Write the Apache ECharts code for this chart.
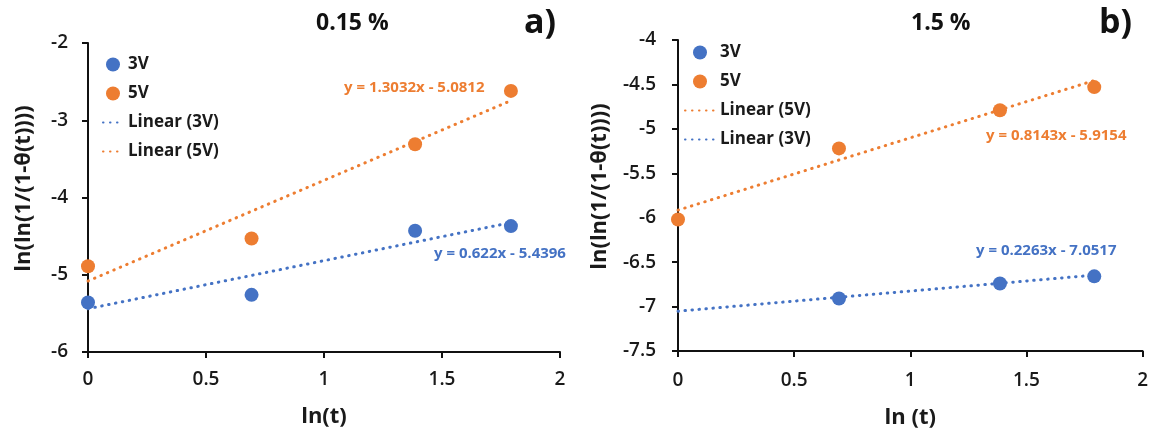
<!DOCTYPE html>
<html><head><meta charset="utf-8">
<script src="https://cdn.jsdelivr.net/npm/echarts@6/dist/echarts.min.js"></script>
<style>html,body{margin:0;padding:0;background:#fff}#c{width:1151px;height:434px}</style>
</head><body><div id="c"></div>
<script>
// ---- data ----
const xVals = [0, 0.693, 1.386, 1.792];
const xValsB3 = [0.693, 1.386, 1.792];
// panel a) 0.15 %
const a3V = [-5.36, -5.26, -4.43, -4.37];
const a5V = [-4.89, -4.53, -3.31, -2.62];
const aTrend3V = [[0, -5.44], [1.792, -4.325]];
const aTrend5V = [[0, -5.081], [1.792, -2.746]];
// panel b) 1.5 %
const b3V = [-6.91, -6.74, -6.66];
const b5V = [-6.02, -5.22, -4.79, -4.53];
const bTrend3V = [[0, -7.052], [1.792, -6.646]];
const bTrend5V = [[0, -5.915], [1.792, -4.456]];
const eqA5 = 'y = 1.3032x - 5.0812', eqA3 = 'y = 0.622x - 5.4396';
const eqB5 = 'y = 0.8143x - 5.9154', eqB3 = 'y = 0.2263x - 7.0517';

const BLUE = '#4472C4', ORANGE = '#ED7D31';
const FONT = 'Open Sans';
const pair = (xs, ys) => xs.map((x, i) => [x, ys[i]]);

function xAxis(gridIndex, name, gap, margin) {
  return {
    type: 'value', gridIndex, min: 0, max: 2, interval: 0.5, name,
    nameLocation: 'middle', nameGap: gap,
    nameTextStyle: { fontFamily: FONT, fontWeight: 'bold', fontSize: 22, color: '#1a1a1a' },
    axisLine: { onZero: false, lineStyle: { color: '#111', width: 2 } },
    axisTick: { show: true, length: 6, lineStyle: { color: '#111', width: 2 } },
    axisLabel: { fontFamily: FONT, fontWeight: 600, fontSize: 19, color: '#1a1a1a', margin,
      formatter: v => String(v) },
    splitLine: { show: false }
  };
}
function yAxis(gridIndex, min, max, interval, gap, margin) {
  return {
    type: 'value', gridIndex, min, max, interval,
    name: 'ln(ln(1/(1-θ(t))))', nameLocation: 'middle', nameGap: gap,
    nameTextStyle: { fontFamily: FONT, fontWeight: 'bold', fontSize: 22, color: '#1a1a1a', padding: [0, 0, 0, 18] },
    axisLine: { show: true, onZero: false, lineStyle: { color: '#111', width: 2 } },
    axisTick: { show: true, length: 6, lineStyle: { color: '#111', width: 2 } },
    axisLabel: { fontFamily: FONT, fontWeight: 600, fontSize: 19, color: '#1a1a1a', margin },
    splitLine: { show: false }
  };
}
function scatter(name, data, color, idx) {
  return { name, type: 'scatter', xAxisIndex: idx, yAxisIndex: idx, data, symbolSize: 14,
    itemStyle: { color, opacity: 1 }, z: 3 };
}
function trend(name, data, color, idx) {
  return { name, type: 'line', xAxisIndex: idx, yAxisIndex: idx, data, showSymbol: false,
    symbol: 'none', lineStyle: { color, width: 3, type: [0.5, 6.5], cap: 'round' },
    itemStyle: { color }, z: 2 };
}
const legendText = { fontFamily: FONT, fontWeight: 'bold', fontSize: 17, color: '#1a1a1a' };
const lineItem = n => ({ name: n, itemStyle: { opacity: 0 } });

const chart = echarts.init(document.getElementById('c'));
chart.setOption({
  animation: false,
  grid: [
    { left: 88, right: 591, top: 43, bottom: 82 },
    { left: 678, right: 8, top: 40, bottom: 77 }
  ],
  xAxis: [xAxis(0, 'ln(t)', 54, 18), xAxis(1, 'ln (t)', 56, 20)],
  yAxis: [yAxis(0, -6, -2, 1, 53, 20), yAxis(1, -7.5, -4, 0.5, 67, 22)],
  legend: [
    { orient: 'vertical', left: 97, top: 51, itemGap: 12, itemWidth: 20, itemHeight: 14,
      textStyle: legendText,
      data: [{ name: '3V', icon: 'circle' }, { name: '5V', icon: 'circle' }, lineItem('Linear (3V)'), lineItem('Linear (5V)')] },
    { orient: 'vertical', left: 679, top: 39, itemGap: 12, itemWidth: 30, itemHeight: 14,
      textStyle: legendText,
      data: [{ name: '3V', icon: 'circle' }, { name: '5V', icon: 'circle' }, lineItem('Linear (5V)'), lineItem('Linear (3V)')] }
  ],
  series: [
    trend('Linear (3V)', aTrend3V, BLUE, 0),
    trend('Linear (5V)', aTrend5V, ORANGE, 0),
    scatter('3V', pair(xVals, a3V), BLUE, 0),
    scatter('5V', pair(xVals, a5V), ORANGE, 0),
    trend('Linear (5V)', bTrend5V, ORANGE, 1),
    trend('Linear (3V)', bTrend3V, BLUE, 1),
    scatter('3V', pair(xValsB3, b3V), BLUE, 1),
    scatter('5V', pair(xVals, b5V), ORANGE, 1)
  ],
  graphic: [
    { type: 'text', left: 316, top: 12, style: { text: '0.15 %', font: 'bold 23px "Open Sans"', fill: '#111' } },
    { type: 'text', left: 524, top: 6, style: { text: 'a)', font: 'bold 34px "Open Sans"', fill: '#111' } },
    { type: 'text', left: 911, top: 12, style: { text: '1.5 %', font: 'bold 23px "Open Sans"', fill: '#111' } },
    { type: 'text', left: 1099, top: 6, style: { text: 'b)', font: 'bold 34px "Open Sans"', fill: '#111' } },
    { type: 'text', left: 344, top: 80, style: { text: eqA5, font: 'bold 15px "Open Sans"', fill: ORANGE } },
    { type: 'text', left: 434, top: 246, style: { text: eqA3, font: 'bold 15px "Open Sans"', fill: BLUE } },
    { type: 'text', left: 986, top: 128, style: { text: eqB5, font: 'bold 15px "Open Sans"', fill: ORANGE } },
    { type: 'text', left: 976, top: 243, style: { text: eqB3, font: 'bold 15px "Open Sans"', fill: BLUE } }
  ]
});
</script></body></html>
